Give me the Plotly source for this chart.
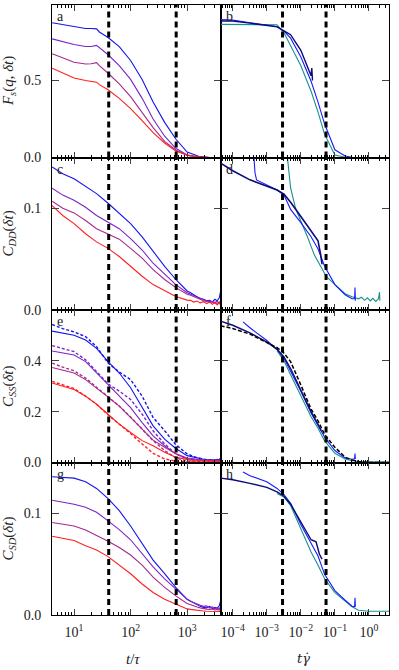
import plotly.graph_objects as go
from plotly.subplots import make_subplots

# ---- left column: lag time t/tau, four state points (blue -> red)
t_tau_a = [4.1, 6.3, 10, 16, 20, 25, 28, 40, 63, 100, 160, 250, 400, 630, 1000, 1600, 2500, 3900]
t_tau = [4.1, 6.3, 10, 16, 25, 40, 63, 100, 160, 250, 400, 630, 1000,
         1150, 1300, 1500, 1700, 1950, 2200, 2500, 2800, 3100, 3400, 3700, 3900]

fs_left = [
    [0.875, 0.862, 0.848, 0.837, 0.837, 0.835, 0.815, 0.779, 0.72, 0.63, 0.507, 0.36, 0.228, 0.12, 0.035, 0.008, 0.0, 0.0],
    [0.77, 0.752, 0.734, 0.721, 0.721, 0.728, 0.712, 0.667, 0.596, 0.507, 0.384, 0.25, 0.138, 0.06, 0.016, 0.003, 0.0, 0.0],
    [0.674, 0.647, 0.618, 0.607, 0.609, 0.616, 0.596, 0.547, 0.478, 0.395, 0.295, 0.194, 0.105, 0.049, 0.013, 0.002, 0.0, 0.0],
    [0.58, 0.549, 0.516, 0.5, 0.496, 0.489, 0.473, 0.44, 0.384, 0.317, 0.239, 0.161, 0.094, 0.042, 0.016, 0.004, 0.0, 0.0],
]
cdd_left = [
    [0.1406, 0.134, 0.129, 0.122, 0.1145, 0.105, 0.0955, 0.085, 0.072, 0.0574, 0.0429, 0.030, 0.0187,
     0.017, 0.015, 0.013, 0.011, 0.0105, 0.009, 0.0095, 0.008, 0.0105, 0.009, 0.012, 0.018],
    [0.1197, 0.113, 0.108, 0.101, 0.093, 0.0865, 0.080, 0.0703, 0.059, 0.046, 0.0348, 0.025, 0.017,
     0.0155, 0.014, 0.0125, 0.011, 0.0095, 0.009, 0.0085, 0.008, 0.0075, 0.0085, 0.007, 0.009],
    [0.107, 0.100, 0.0955, 0.088, 0.080, 0.075, 0.0697, 0.0606, 0.051, 0.0397, 0.030, 0.022, 0.0155,
     0.0145, 0.013, 0.0115, 0.0105, 0.009, 0.0085, 0.0075, 0.008, 0.0065, 0.007, 0.006, 0.008],
    [0.1026, 0.093, 0.085, 0.075, 0.067, 0.0606, 0.0526, 0.0429, 0.0332, 0.025, 0.0187, 0.0132, 0.0097,
     0.0095, 0.0078, 0.0088, 0.007, 0.0082, 0.0062, 0.0078, 0.0055, 0.0075, 0.005, 0.0072, 0.0058],
]
css_left = [
    [0.517, 0.51, 0.501, 0.482, 0.449, 0.397, 0.352, 0.294, 0.216, 0.144, 0.092, 0.055, 0.027,
     0.024, 0.02, 0.017, 0.015, 0.013, 0.012, 0.011, 0.012, 0.01, 0.013, 0.011, 0.016],
    [0.439, 0.43, 0.423, 0.397, 0.352, 0.306, 0.261, 0.216, 0.157, 0.105, 0.066, 0.034, 0.018,
     0.016, 0.014, 0.012, 0.011, 0.01, 0.009, 0.0085, 0.009, 0.008, 0.0095, 0.008, 0.01],
    [0.374, 0.363, 0.352, 0.326, 0.294, 0.257, 0.222, 0.177, 0.131, 0.088, 0.06, 0.034, 0.014,
     0.012, 0.011, 0.01, 0.009, 0.008, 0.0075, 0.007, 0.0075, 0.0065, 0.007, 0.006, 0.007],
    [0.313, 0.30, 0.287, 0.261, 0.229, 0.19, 0.151, 0.118, 0.086, 0.066, 0.04, 0.021, 0.01,
     0.009, 0.008, 0.0072, 0.0065, 0.006, 0.0055, 0.005, 0.0052, 0.0045, 0.005, 0.0042, 0.0048],
]
css_fit_left = [
    [0.543, 0.527, 0.514, 0.495, 0.456, 0.391, 0.356, 0.326, 0.261, 0.177, 0.125, 0.07, 0.034,
     0.03, 0.024, 0.019, 0.016, 0.013, 0.011, 0.01, 0.009, 0.011, 0.009, 0.012, 0.014],
    [0.46, 0.447, 0.436, 0.404, 0.358, 0.309, 0.281, 0.248, 0.19, 0.125, 0.073, 0.034, 0.014,
     0.012, 0.011, 0.01, 0.009, 0.008, 0.0075, 0.007, 0.0075, 0.0065, 0.007, 0.006, 0.0075],
    [0.391, 0.375, 0.361, 0.332, 0.296, 0.257, 0.222, 0.179, 0.131, 0.086, 0.047, 0.018, 0.005,
     0.0045, 0.004, 0.0035, 0.003, 0.0035, 0.003, 0.004, 0.0035, 0.004, 0.0035, 0.004, 0.0045],
    [0.319, 0.305, 0.291, 0.261, 0.229, 0.187, 0.151, 0.114, 0.073, 0.036, 0.014, 0.005, 0.002,
     0.0018, 0.0017, 0.0016, 0.0015, 0.0016, 0.0015, 0.0017, 0.0016, 0.0018, 0.0017, 0.0019, 0.002],
]
csd_left = [
    [0.136, 0.1355, 0.1346, 0.131, 0.1245, 0.1144, 0.1027, 0.0876, 0.0708, 0.054, 0.0406, 0.0272, 0.0154,
     0.0135, 0.0115, 0.0098, 0.0085, 0.0075, 0.007, 0.0085, 0.006, 0.0075, 0.0065, 0.009, 0.014],
    [0.1128, 0.111, 0.109, 0.106, 0.101, 0.0926, 0.084, 0.074, 0.0607, 0.0473, 0.0356, 0.0255, 0.0154,
     0.0135, 0.012, 0.0105, 0.0095, 0.0085, 0.009, 0.007, 0.008, 0.006, 0.0075, 0.006, 0.008],
    [0.0909, 0.089, 0.0876, 0.0836, 0.0785, 0.0725, 0.0664, 0.059, 0.049, 0.0372, 0.0272, 0.0188, 0.0114,
     0.010, 0.0088, 0.0078, 0.007, 0.0062, 0.0058, 0.0055, 0.006, 0.005, 0.0055, 0.0048, 0.006],
    [0.0775, 0.0755, 0.0732, 0.0681, 0.064, 0.0574, 0.049, 0.0406, 0.0305, 0.0221, 0.0154, 0.0104, 0.006,
     0.0055, 0.005, 0.0046, 0.0042, 0.004, 0.0037, 0.0035, 0.0037, 0.0033, 0.0036, 0.0032, 0.0035],
]
left_colors = ["#1414ee", "#7a25c8", "#a62a8c", "#ff1f1f"]

# ---- right column: strain t*gamma_dot, three runs (navy, blue, teal)
fs_navy_x = [4.4e-5, 1e-4, 3.2e-4, 1e-3, 2e-3, 3.2e-3, 5e-3, 1e-2, 2e-2, 2.1e-2, 2.2e-2]
fs_navy_y = [0.886, 0.886, 0.872, 0.858, 0.848, 0.822, 0.797, 0.696, 0.53, 0.58, 0.50]
fs_blue_x = [4.4e-5, 1e-4, 3.2e-4, 1e-3, 2e-3, 3.2e-3, 5e-3, 1e-2, 2e-2, 3.2e-2, 5e-2, 0.1, 0.2, 0.32, 0.5]
fs_blue_y = [0.895, 0.893, 0.875, 0.862, 0.85, 0.82, 0.775, 0.652, 0.495, 0.36, 0.217, 0.05, 0.01, 0.002, 0.0]
fs_teal_x = [4.4e-5, 1e-4, 3.2e-4, 1e-3, 2e-3, 3.2e-3, 5e-3, 1e-2, 2e-2, 3.2e-2, 5e-2, 0.1, 0.2, 0.5, 1, 2, 3.9]
fs_teal_y = [0.864, 0.864, 0.864, 0.864, 0.862, 0.81, 0.73, 0.596, 0.43, 0.295, 0.15, 0.016, 0.002, 0, 0, 0, 0]

cdd_navy_x = [4.4e-5, 1e-4, 3.2e-4, 1e-3, 2e-3, 3.2e-3, 5e-3, 1e-2, 2e-2, 3.2e-2, 3.8e-2, 4.2e-2]
cdd_navy_y = [0.1445, 0.137, 0.128, 0.122, 0.118, 0.114, 0.106, 0.092, 0.077, 0.068, 0.055, 0.045]
cdd_blue_x = [4.1e-4, 4.5e-4, 5e-4, 1e-3, 2e-3, 3.2e-3, 5e-3, 1e-2, 2e-2, 3.2e-2, 5e-2, 0.1, 0.2, 0.32, 0.38, 0.39, 0.40]
cdd_blue_y = [0.155, 0.135, 0.128, 0.1226, 0.118, 0.113, 0.099, 0.086, 0.072, 0.06, 0.043, 0.025, 0.015, 0.011, 0.011, 0.022, 0.009]
cdd_teal_x = [3.9e-3, 4.5e-3, 5e-3, 7e-3, 1e-2, 1.6e-2, 2.5e-2, 4e-2, 5.6e-2, 0.1, 0.2, 0.32, 0.5,
              0.6, 0.75, 0.9, 1.1, 1.3, 1.6, 1.9, 2.05, 2.1]
cdd_teal_y = [0.155, 0.135, 0.12, 0.1, 0.088, 0.071, 0.054, 0.042, 0.033, 0.025, 0.016, 0.013, 0.011,
              0.0125, 0.0095, 0.012, 0.009, 0.0115, 0.0085, 0.011, 0.0175, 0.009]

css_fit_x = [4.4e-5, 1e-4, 3.2e-4, 1e-3, 2e-3, 3.2e-3, 5e-3, 1e-2, 2e-2, 3.2e-2, 5e-2, 0.1, 0.2, 0.32, 0.5, 1, 2, 3.9]
css_fit_y = [0.538, 0.527, 0.505, 0.472, 0.452, 0.43, 0.397, 0.305, 0.21, 0.164, 0.11, 0.06, 0.021, 0.01, 0.004, 0.0, 0.0, 0.0]
css_navy_x = [4.4e-5, 1e-4, 3.2e-4, 1e-3, 2e-3, 3.2e-3, 5e-3, 1e-2, 2e-2, 3.2e-2, 4e-2]
css_navy_y = [0.556, 0.54, 0.51, 0.474, 0.445, 0.415, 0.37, 0.285, 0.2, 0.15, 0.125]
css_blue_x = [2e-4, 3.2e-4, 1e-3, 2e-3, 3.2e-3, 5e-3, 1e-2, 2e-2, 3.2e-2, 5e-2, 0.1, 0.2, 0.32, 0.38, 0.39, 0.40]
css_blue_y = [0.553, 0.53, 0.48, 0.445, 0.41, 0.36, 0.28, 0.195, 0.148, 0.1, 0.047, 0.018, 0.013, 0.015, 0.035, 0.014]
css_teal_x = [2e-3, 3.2e-3, 5e-3, 1e-2, 2e-2, 3.2e-2, 5e-2, 0.1, 0.2, 0.32, 0.5, 1, 2, 3.9]
css_teal_y = [0.44, 0.4, 0.345, 0.262, 0.18, 0.135, 0.085, 0.036, 0.014, 0.007, 0.004, 0.003, 0.002, 0.002]

csd_navy_x = [4.4e-5, 1e-4, 3.2e-4, 1e-3, 2e-3, 3.2e-3, 5e-3, 1e-2, 2e-2, 2.8e-2, 3.5e-2, 4.2e-2]
csd_navy_y = [0.1346, 0.133, 0.1295, 0.1255, 0.121, 0.1168, 0.109, 0.092, 0.074, 0.072, 0.06, 0.055]
csd_blue_x = [2e-4, 3.2e-4, 1e-3, 2e-3, 3.2e-3, 5e-3, 1e-2, 2e-2, 3.2e-2, 5e-2, 0.1, 0.2, 0.32, 0.38, 0.39, 0.40]
csd_blue_y = [0.1406, 0.137, 0.131, 0.1245, 0.1185, 0.11, 0.089, 0.07, 0.058, 0.04, 0.024, 0.0145, 0.0087, 0.008, 0.017, 0.008]
csd_teal_x = [2e-3, 3.2e-3, 5e-3, 1e-2, 2e-2, 3.2e-2, 5e-2, 0.1, 0.2, 0.32, 0.5, 1, 2, 3.9]
csd_teal_y = [0.1195, 0.116, 0.1077, 0.085, 0.062, 0.049, 0.0356, 0.022, 0.0138, 0.008, 0.0047, 0.0037, 0.0037, 0.0037]

right_colors = ["#0b0b7a", "#1a1aff", "#16918e"]

# vertical markers
left_marks = [41, 640]
right_marks = [0.0029, 0.055]

y_ranges = [[0, 0.99], [0, 0.15], [0, 0.6], [0, 0.15]]
y_ticks = [[0.0, 0.5], [0.0, 0.1], [0.0, 0.2, 0.4], [0.0, 0.1]]
y_titles = ["<i>F<sub>s</sub></i>(<i>q</i>, <i>δt</i>)", "<i>C<sub>DD</sub></i>(<i>δt</i>)",
            "<i>C<sub>SS</sub></i>(<i>δt</i>)", "<i>C<sub>SD</sub></i>(<i>δt</i>)"]
panel_letters = ["a", "b", "c", "d", "e", "f", "g", "h"]

FONT = "Liberation Serif"

fig = make_subplots(rows=4, cols=2, horizontal_spacing=0, vertical_spacing=0)


def line(x, y, color, row, col, width=1.1, dash="solid"):
    fig.add_trace(go.Scatter(x=x, y=y, mode="lines", showlegend=False, hoverinfo="skip",
                             line=dict(color=color, width=width, dash=dash)),
                  row=row, col=col)


# left column
for i in range(4):
    line(t_tau_a, fs_left[i], left_colors[i], 1, 1)
    line(t_tau, cdd_left[i], left_colors[i], 2, 1)
    line(t_tau, css_left[i], left_colors[i], 3, 1)
    line(t_tau, css_fit_left[i], left_colors[i], 3, 1, width=1.4, dash="3px,2px")
    line(t_tau, csd_left[i], left_colors[i], 4, 1)

# right column
navy, blue, teal = right_colors
line(fs_teal_x, fs_teal_y, teal, 1, 2)
line(fs_blue_x, fs_blue_y, blue, 1, 2)
line(fs_navy_x, fs_navy_y, navy, 1, 2, width=1.4)
line(cdd_teal_x, cdd_teal_y, teal, 2, 2)
line(cdd_blue_x, cdd_blue_y, blue, 2, 2)
line(cdd_navy_x, cdd_navy_y, navy, 2, 2, width=1.6)
line(css_teal_x, css_teal_y, teal, 3, 2)
line(css_blue_x, css_blue_y, blue, 3, 2)
line(css_navy_x, css_navy_y, navy, 3, 2, width=1.4)
line(css_fit_x, css_fit_y, "black", 3, 2, width=1.5, dash="4px,2px")
line(csd_teal_x, csd_teal_y, teal, 4, 2)
line(csd_blue_x, csd_blue_y, blue, 4, 2)
line(csd_navy_x, csd_navy_y, navy, 4, 2, width=1.4)

# dashed vertical guides
for r in range(4):
    for v in left_marks:
        line([v, v], y_ranges[r], "black", r + 1, 1, width=3, dash="6px,4px")
    for v in right_marks:
        line([v, v], y_ranges[r], "black", r + 1, 2, width=3, dash="6px,4px")

axis_common = dict(showline=True, linecolor="black", linewidth=1, mirror="ticks",
                   ticks="inside", showgrid=False, zeroline=False,
                   tickfont=dict(family=FONT, size=14, color="#222"))

left_minor = [m * 10 ** e for e in range(0, 4) for m in range(2, 10) if 4 < m * 10 ** e < 3900]
right_minor = [m * 10.0 ** e for e in range(-5, 1) for m in range(2, 10) if 4.4e-5 < m * 10.0 ** e < 3.9]

for r in range(1, 5):
    for c in (1, 2):
        if c == 1:
            xr = [0.61, 3.59]
            tv = [10, 100, 1000]
            tt = ["10<sup>1</sup>", "10<sup>2</sup>", "10<sup>3</sup>"]
            mv = left_minor
        else:
            xr = [-4.36, 0.59]
            tv = [1e-4, 1e-3, 1e-2, 1e-1, 1]
            tt = ["10<sup>−4</sup>", "10<sup>−3</sup>", "10<sup>−2</sup>", "10<sup>−1</sup>", "10<sup>0</sup>"]
            mv = right_minor
        fig.update_xaxes(type="log", range=xr, tickvals=tv, ticktext=tt, ticklen=6,
                         showticklabels=(r == 4), ticklabelstandoff=4,
                         minor=dict(ticks="inside", ticklen=3, showgrid=False,
                                    tickcolor="black", tickvals=mv),
                         row=r, col=c, **axis_common)
        fig.update_yaxes(range=y_ranges[r - 1], tickvals=y_ticks[r - 1],
                         tickformat=".1f", ticklen=7, showticklabels=(c == 1),
                         ticklabelstandoff=7, row=r, col=c, **axis_common)

annotations = []
centers = [0.875, 0.625, 0.375, 0.125]
for r in range(4):
    annotations.append(dict(text=y_titles[r], x=-0.128, y=centers[r], xref="paper", yref="paper",
                            textangle=-90, showarrow=False, xanchor="center", yanchor="middle",
                            font=dict(family=FONT, size=15, color="#222")))
    for c in range(2):
        idx = r * 2 + c
        ax = "" if idx == 0 else str(idx + 1)
        annotations.append(dict(text=panel_letters[idx], x=0.02, y=0.985,
                                xref="x" + ax + " domain", yref="y" + ax + " domain",
                                xanchor="left", yanchor="top", showarrow=False,
                                font=dict(family=FONT, size=14, color="#222")))
annotations.append(dict(text="<i>t</i>/<i>τ</i>", x=0.24, y=-0.072, xref="paper", yref="paper",
                        showarrow=False, xanchor="center", yanchor="middle",
                        font=dict(family=FONT, size=15, color="#222")))
annotations.append(dict(text="<i>tγ̇</i>", x=0.745, y=-0.072, xref="paper", yref="paper",
                        showarrow=False, xanchor="center", yanchor="middle",
                        font=dict(family="DejaVu Serif", size=13, color="#222")))

fig.update_layout(width=399, height=670, margin=dict(l=52, r=10, t=5, b=55),
                  plot_bgcolor="white", paper_bgcolor="white",
                  annotations=annotations, showlegend=False)

# the default page keeps an 8px body margin; drop it so the figure sits at the corner
fig.write_html("out.html", config={"displayModeBar": False},
               post_script="document.body.style.margin='0px';")
